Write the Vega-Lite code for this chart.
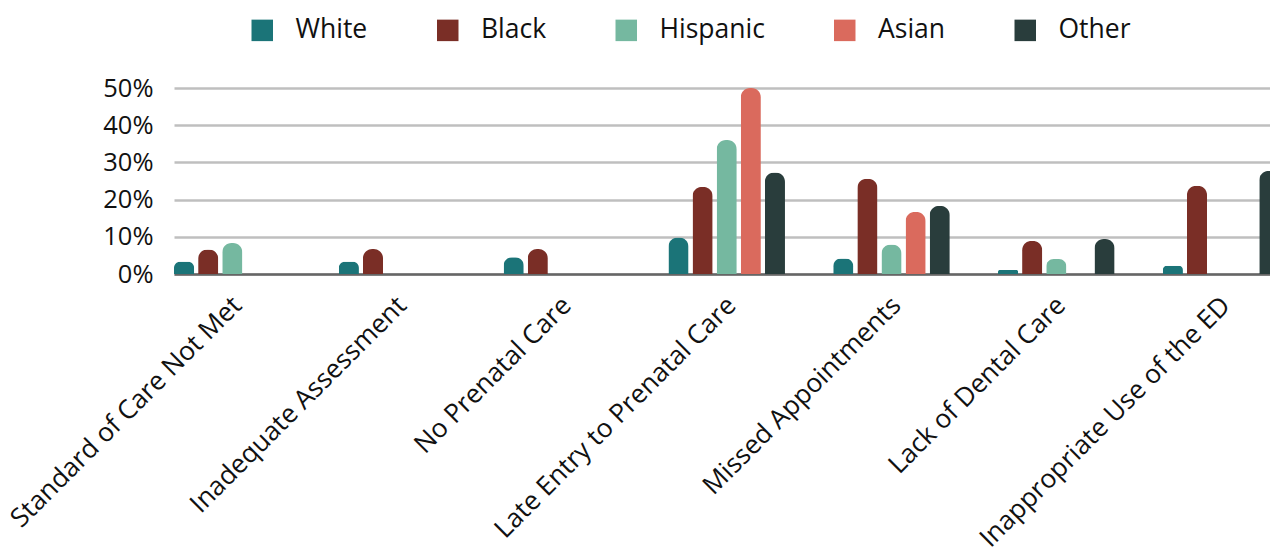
{
  "$schema": "https://vega.github.io/schema/vega-lite/v6.json",
  "autosize": "none",
  "width": 1096,
  "height": 186,
  "padding": {"left": 174, "top": 88, "right": 0, "bottom": 280},
  "background": "white",
  "config": {
    "font": "Open Sans",
    "view": {"stroke": null},
    "axis": {"labelFont": "Open Sans", "labelColor": "#111111", "labelFontSize": 25.5, "titleFont": "Open Sans"},
    "legend": {"labelFont": "Open Sans"}
  },
  "data": {
    "values": [
      {"reason": "Standard of Care Not Met", "group": "White", "share": 0.033},
      {"reason": "Standard of Care Not Met", "group": "Black", "share": 0.066},
      {"reason": "Standard of Care Not Met", "group": "Hispanic", "share": 0.083},
      {"reason": "Inadequate Assessment", "group": "White", "share": 0.033},
      {"reason": "Inadequate Assessment", "group": "Black", "share": 0.067},
      {"reason": "No Prenatal Care", "group": "White", "share": 0.045},
      {"reason": "No Prenatal Care", "group": "Black", "share": 0.067},
      {"reason": "Late Entry to Prenatal Care", "group": "White", "share": 0.098},
      {"reason": "Late Entry to Prenatal Care", "group": "Black", "share": 0.234},
      {"reason": "Late Entry to Prenatal Care", "group": "Hispanic", "share": 0.36},
      {"reason": "Late Entry to Prenatal Care", "group": "Asian", "share": 0.5},
      {"reason": "Late Entry to Prenatal Care", "group": "Other", "share": 0.273},
      {"reason": "Missed Appointments", "group": "White", "share": 0.042},
      {"reason": "Missed Appointments", "group": "Black", "share": 0.256},
      {"reason": "Missed Appointments", "group": "Hispanic", "share": 0.079},
      {"reason": "Missed Appointments", "group": "Asian", "share": 0.167},
      {"reason": "Missed Appointments", "group": "Other", "share": 0.183},
      {"reason": "Lack of Dental Care", "group": "White", "share": 0.011},
      {"reason": "Lack of Dental Care", "group": "Black", "share": 0.089},
      {"reason": "Lack of Dental Care", "group": "Hispanic", "share": 0.04},
      {"reason": "Lack of Dental Care", "group": "Other", "share": 0.094},
      {"reason": "Inappropriate Use of the ED", "group": "White", "share": 0.022},
      {"reason": "Inappropriate Use of the ED", "group": "Black", "share": 0.237},
      {"reason": "Inappropriate Use of the ED", "group": "Other", "share": 0.277}
    ]
  },
  "mark": {"type": "bar", "cornerRadiusTopLeft": 9.3, "cornerRadiusTopRight": 9.3},
  "encoding": {
    "x": {
      "field": "reason",
      "type": "nominal",
      "title": null,
      "sort": null,
      "scale": {
        "domain": ["Standard of Care Not Met", "Inadequate Assessment", "No Prenatal Care", "Late Entry to Prenatal Care", "Missed Appointments", "Lack of Dental Care", "Inappropriate Use of the ED"],
        "range": [0, 1153.6],
        "paddingInner": 0,
        "paddingOuter": 0
      },
      "axis": {
        "labelAngle": -45,
        "labelAlign": "right",
        "labelBaseline": "middle",
        "labelFontSize": 26.3,
        "labelPadding": 27,
        "labelOffset": -19,
        "labelLimit": 0,
        "ticks": false,
        "domainColor": "#666666",
        "domainWidth": 2.5,
        "grid": false
      }
    },
    "xOffset": {
      "field": "group",
      "type": "nominal",
      "scale": {
        "domain": ["White", "Black", "Hispanic", "Asian", "Other"],
        "paddingInner": 0.165,
        "paddingOuter": 1.264,
        "align": 0
      }
    },
    "y": {
      "field": "share",
      "type": "quantitative",
      "title": null,
      "scale": {"domain": [0, 0.5], "nice": false},
      "axis": {
        "format": ".0%",
        "values": [0, 0.1, 0.2, 0.3, 0.4, 0.5],
        "domain": false,
        "ticks": false,
        "labelPadding": 21,
        "gridColor": "#bfbfbf",
        "gridWidth": 2.5
      }
    },
    "color": {
      "field": "group",
      "type": "nominal",
      "title": null,
      "scale": {
        "domain": ["White", "Black", "Hispanic", "Asian", "Other"],
        "range": ["#1b7478", "#7a2e26", "#75b8a0", "#da6a5d", "#293d3c"]
      },
      "legend": {
        "orient": "none",
        "direction": "horizontal",
        "legendX": 75,
        "legendY": -71,
        "padding": 0,
        "symbolType": "square",
        "symbolSize": 462,
        "symbolStrokeWidth": 0,
        "symbolOpacity": 1,
        "labelFontSize": 26.5,
        "labelColor": "#111111",
        "labelOffset": 20,
        "columnPadding": 66.5
      }
    }
  }
}
